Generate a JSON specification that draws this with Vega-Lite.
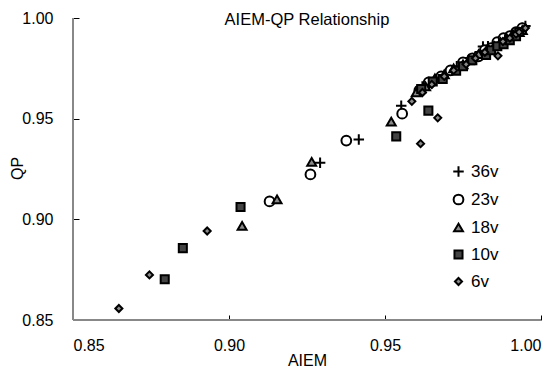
{
  "$schema": "https://vega.github.io/schema/vega-lite/v6.json",
  "width": 468,
  "height": 302,
  "autosize": {"type": "none"},
  "padding": {"left": 73, "top": 18, "right": 13, "bottom": 48},
  "background": "white",
  "title": {"text": "AIEM-QP Relationship", "fontSize": 16.5, "fontWeight": "normal", "font": "Liberation Sans", "color": "black", "offset": -18, "anchor": "middle", "frame": "group"},
  "layer": [
    {
      "data": {"values": [{"x": 0.85, "x2": 1.0, "y": 0.85}]},
      "mark": {"type": "rule", "color": "#888888", "strokeWidth": 2},
      "encoding": {"x": {"field": "x", "type": "quantitative"}, "x2": {"field": "x2"}, "y": {"field": "y", "type": "quantitative"}}
    },
    {
      "data": {"values": [{"x": 0.85, "y": 0.85, "y2": 1.0}]},
      "mark": {"type": "rule", "color": "#888888", "strokeWidth": 2},
      "encoding": {"x": {"field": "x", "type": "quantitative"}, "y": {"field": "y", "type": "quantitative"}, "y2": {"field": "y2"}}
    },
    {
      "data": {"values": [
        {"s": "36v", "x": 0.9292, "y": 0.9281},
        {"s": "36v", "x": 0.9416, "y": 0.9396},
        {"s": "36v", "x": 0.9552, "y": 0.9564},
        {"s": "36v", "x": 0.962, "y": 0.966},
        {"s": "36v", "x": 0.966, "y": 0.969},
        {"s": "36v", "x": 0.970, "y": 0.973},
        {"s": "36v", "x": 0.973, "y": 0.976},
        {"s": "36v", "x": 0.976, "y": 0.978},
        {"s": "36v", "x": 0.979, "y": 0.981},
        {"s": "36v", "x": 0.9814, "y": 0.9858},
        {"s": "36v", "x": 0.983, "y": 0.986},
        {"s": "36v", "x": 0.985, "y": 0.987},
        {"s": "36v", "x": 0.987, "y": 0.989},
        {"s": "36v", "x": 0.989, "y": 0.990},
        {"s": "36v", "x": 0.991, "y": 0.992},
        {"s": "36v", "x": 0.993, "y": 0.994},
        {"s": "36v", "x": 0.994, "y": 0.995},
        {"s": "36v", "x": 0.995, "y": 0.996},
        {"s": "23v", "x": 0.9130, "y": 0.9089},
        {"s": "23v", "x": 0.9261, "y": 0.9223},
        {"s": "23v", "x": 0.9376, "y": 0.9391},
        {"s": "23v", "x": 0.9555, "y": 0.9525},
        {"s": "23v", "x": 0.961, "y": 0.964},
        {"s": "23v", "x": 0.964, "y": 0.968},
        {"s": "23v", "x": 0.968, "y": 0.971},
        {"s": "23v", "x": 0.971, "y": 0.974},
        {"s": "23v", "x": 0.975, "y": 0.978},
        {"s": "23v", "x": 0.978, "y": 0.980},
        {"s": "23v", "x": 0.980, "y": 0.981},
        {"s": "23v", "x": 0.982, "y": 0.984},
        {"s": "23v", "x": 0.984, "y": 0.985},
        {"s": "23v", "x": 0.986, "y": 0.988},
        {"s": "23v", "x": 0.988, "y": 0.990},
        {"s": "23v", "x": 0.990, "y": 0.991},
        {"s": "23v", "x": 0.992, "y": 0.993},
        {"s": "23v", "x": 0.994, "y": 0.995},
        {"s": "18v", "x": 0.9042, "y": 0.8968},
        {"s": "18v", "x": 0.9154, "y": 0.9099},
        {"s": "18v", "x": 0.9265, "y": 0.9286},
        {"s": "18v", "x": 0.9520, "y": 0.9485},
        {"s": "18v", "x": 0.960, "y": 0.963},
        {"s": "18v", "x": 0.963, "y": 0.966},
        {"s": "18v", "x": 0.966, "y": 0.970},
        {"s": "18v", "x": 0.969, "y": 0.972},
        {"s": "18v", "x": 0.972, "y": 0.975},
        {"s": "18v", "x": 0.975, "y": 0.977},
        {"s": "18v", "x": 0.977, "y": 0.979},
        {"s": "18v", "x": 0.980, "y": 0.982},
        {"s": "18v", "x": 0.983, "y": 0.985},
        {"s": "18v", "x": 0.985, "y": 0.986},
        {"s": "18v", "x": 0.987, "y": 0.988},
        {"s": "18v", "x": 0.989, "y": 0.990},
        {"s": "18v", "x": 0.991, "y": 0.992},
        {"s": "18v", "x": 0.993, "y": 0.993},
        {"s": "18v", "x": 0.994, "y": 0.994},
        {"s": "10v", "x": 0.8794, "y": 0.8702},
        {"s": "10v", "x": 0.8852, "y": 0.8857},
        {"s": "10v", "x": 0.9037, "y": 0.9061},
        {"s": "10v", "x": 0.9536, "y": 0.9412},
        {"s": "10v", "x": 0.9639, "y": 0.9540},
        {"s": "10v", "x": 0.9616, "y": 0.9647},
        {"s": "10v", "x": 0.9653, "y": 0.9685},
        {"s": "10v", "x": 0.9685, "y": 0.9697},
        {"s": "10v", "x": 0.9728, "y": 0.9738},
        {"s": "10v", "x": 0.975, "y": 0.976},
        {"s": "10v", "x": 0.978, "y": 0.979},
        {"s": "10v", "x": 0.9824, "y": 0.9817},
        {"s": "10v", "x": 0.984, "y": 0.984},
        {"s": "10v", "x": 0.986, "y": 0.986},
        {"s": "10v", "x": 0.988, "y": 0.987},
        {"s": "10v", "x": 0.990, "y": 0.989},
        {"s": "10v", "x": 0.992, "y": 0.991},
        {"s": "10v", "x": 0.993, "y": 0.993},
        {"s": "6v", "x": 0.8647, "y": 0.8557},
        {"s": "6v", "x": 0.8745, "y": 0.8724},
        {"s": "6v", "x": 0.8930, "y": 0.8942},
        {"s": "6v", "x": 0.9586, "y": 0.9586},
        {"s": "6v", "x": 0.9614, "y": 0.9376},
        {"s": "6v", "x": 0.9669, "y": 0.9504},
        {"s": "6v", "x": 0.9862, "y": 0.9812},
        {"s": "6v", "x": 0.962, "y": 0.963},
        {"s": "6v", "x": 0.965, "y": 0.967},
        {"s": "6v", "x": 0.969, "y": 0.971},
        {"s": "6v", "x": 0.972, "y": 0.974},
        {"s": "6v", "x": 0.976, "y": 0.977},
        {"s": "6v", "x": 0.979, "y": 0.980},
        {"s": "6v", "x": 0.982, "y": 0.983},
        {"s": "6v", "x": 0.9878, "y": 0.9883},
        {"s": "6v", "x": 0.990, "y": 0.990},
        {"s": "6v", "x": 0.992, "y": 0.992},
        {"s": "6v", "x": 0.993, "y": 0.993},
        {"s": "6v", "x": 0.995, "y": 0.995}
      ]},
      "mark": {"type": "point", "filled": true, "strokeWidth": 2, "opacity": 1},
      "encoding": {
        "x": {"field": "x", "type": "quantitative", "scale": {"domain": [0.85, 1.0], "nice": false, "zero": false},
          "axis": {"title": "AIEM", "values": [0.85, 0.9, 0.95, 1.0], "format": ".2f", "grid": false, "domain": false, "offset": -5,
            "tickColor": "black", "tickSize": 5, "tickWidth": 1,
            "labelPadding": 17, "labelFontSize": 16, "labelColor": "black", "labelFont": "Liberation Sans",
            "titleFontSize": 16, "titleFontWeight": "normal", "titleColor": "black", "titleFont": "Liberation Sans",
            "titleY": 37, "titleBaseline": "top"}},
        "y": {"field": "y", "type": "quantitative", "scale": {"domain": [0.85, 1.0], "nice": false, "zero": false},
          "axis": {"title": "QP", "values": [0.85, 0.9, 0.95, 1.0], "format": ".2f", "grid": false, "domain": false, "offset": -6,
            "tickColor": "black", "tickSize": 6, "tickWidth": 1,
            "labelPadding": 20, "labelFontSize": 16, "labelColor": "black", "labelFont": "Liberation Sans",
            "titleFontSize": 16, "titleFontWeight": "normal", "titleColor": "black", "titleFont": "Liberation Sans",
            "titleX": -54, "titleY": 150}},
        "shape": {"field": "s", "type": "nominal", "title": null,
          "scale": {"domain": ["36v", "23v", "18v", "10v", "6v"], "range": ["M-1,0H1M0,-1V1", "circle", "triangle-up", "square", "diamond"]}},
        "fill": {"field": "s", "type": "nominal", "title": null,
          "scale": {"domain": ["36v", "23v", "18v", "10v", "6v"], "range": ["black", "white", "#8a8a8a", "#444444", "#8a8a8a"]}},
        "stroke": {"field": "s", "type": "nominal", "title": null,
          "scale": {"domain": ["36v", "23v", "18v", "10v", "6v"], "range": ["black", "black", "black", "black", "black"]}},
        "size": {"field": "s", "type": "nominal", "title": null,
          "scale": {"domain": ["36v", "23v", "18v", "10v", "6v"], "range": [110, 50, 50, 60, 45]}}
      }
    }
  ],
  "config": {
    "view": {"stroke": null},
    "font": "Liberation Sans",
    "legend": {"orient": "none", "legendX": 377, "legendY": 145, "padding": 0, "labelFontSize": 17, "labelColor": "black", "labelFont": "Liberation Sans", "rowPadding": 9, "symbolStrokeWidth": 2, "labelOffset": 4}
  }
}
